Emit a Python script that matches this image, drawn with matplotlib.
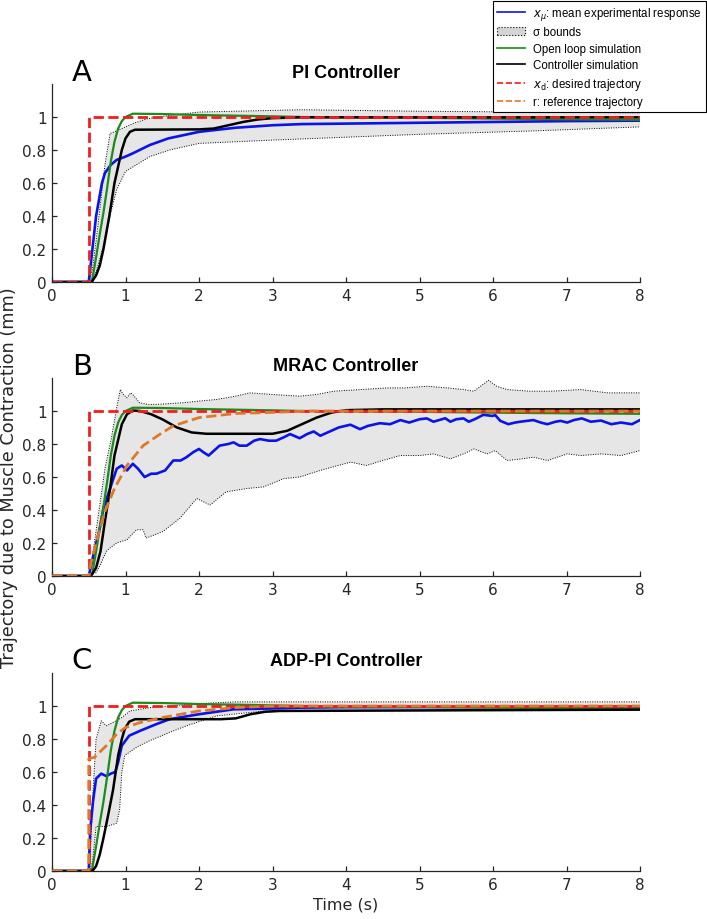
"""
Step responses of the PI, MRAC and ADP-PI controllers
"""
import matplotlib
matplotlib.use("Agg")
import matplotlib.pyplot as plt
from matplotlib.lines import Line2D
from matplotlib.patches import Patch

# desired trajectory (same in every panel)
desired_t = [0, 0.5, 0.5, 8]
desired_y = [0, 0, 1, 1]

# open loop simulation (same in every panel)
open_t = [0, 0.52, 0.55, 0.6, 0.65, 0.7, 0.75, 0.8, 0.85, 0.9, 0.95, 1.0, 1.1,
          1.5, 2, 3, 3.4, 5, 6, 7, 8]
open_y = [0, 0, 0.02, 0.15, 0.29, 0.42, 0.57, 0.73, 0.85, 0.93, 0.975, 1.0, 1.02,
          1.018, 1.012, 1.004, 1.0, 0.995, 0.99, 0.986, 0.983]

# --- A: PI controller
a_mean_t = [0, 0.5, 0.55, 0.6, 0.64, 0.68, 0.72, 0.8, 0.88, 1.0, 1.1, 1.33, 1.58,
            2.0, 2.5, 3.0, 3.4, 4, 5, 6, 7, 8]
a_mean_y = [0, 0, 0.2, 0.4, 0.5, 0.6, 0.66, 0.71, 0.74, 0.76, 0.78, 0.83, 0.87,
            0.91, 0.935, 0.95, 0.957, 0.96, 0.965, 0.97, 0.975, 0.978]
a_upper_t = [0.5, 0.55, 0.6, 0.65, 0.72, 0.79, 0.9, 1.0, 1.1, 1.3, 1.6, 2.0, 3.0,
             3.4, 5, 8]
a_upper_y = [0, 0.08, 0.25, 0.44, 0.71, 0.90, 0.92, 0.94, 0.96, 0.99, 1.01, 1.03,
             1.04, 1.044, 1.035, 1.025]
a_lower_t = [0.5, 0.55, 0.6, 0.7, 0.8, 0.88, 1.0, 1.33, 1.6, 2.0, 3.0, 3.4, 5,
             6.5, 8]
a_lower_y = [0, 0.01, 0.06, 0.22, 0.42, 0.56, 0.67, 0.76, 0.8, 0.84, 0.86, 0.867,
             0.895, 0.915, 0.94]
a_ctrl_t = [0, 0.54, 0.6, 0.65, 0.7, 0.78, 0.85, 0.95, 1.0, 1.06, 1.13, 2.0, 2.2,
            2.4, 2.6, 2.8, 3.0, 3.4, 8]
a_ctrl_y = [0, 0, 0.04, 0.1, 0.2, 0.4, 0.6, 0.8, 0.87, 0.91, 0.923, 0.925, 0.93,
            0.95, 0.97, 0.985, 0.993, 0.998, 0.998]

# --- B: MRAC controller
b_mean_t = [0, 0.5, 0.56, 0.65, 0.7, 0.76, 0.82, 0.88, 0.95, 1.02, 1.1, 1.17,
            1.26, 1.35, 1.42, 1.54, 1.65, 1.75, 1.83, 1.92, 2.0, 2.06, 2.13,
            2.28, 2.4, 2.47, 2.55, 2.65, 2.75, 2.83, 2.95, 3.05, 3.15, 3.24,
            3.37, 3.47, 3.56, 3.65, 3.75, 3.9, 4.06, 4.19, 4.3, 4.46, 4.6,
            4.74, 4.86, 5.0, 5.1, 5.19, 5.35, 5.42, 5.5, 5.6, 5.67, 5.75,
            5.87, 5.99, 6.03, 6.1, 6.21, 6.3, 6.37, 6.55, 6.65, 6.74, 6.85,
            6.92, 7.01, 7.1, 7.21, 7.33, 7.47, 7.61, 7.74, 7.89, 8.0]
b_mean_y = [0, 0, 0.12, 0.29, 0.41, 0.49, 0.57, 0.65, 0.67, 0.64, 0.68, 0.65,
            0.60, 0.62, 0.62, 0.64, 0.70, 0.70, 0.72, 0.75, 0.77, 0.75, 0.73,
            0.79, 0.80, 0.81, 0.79, 0.79, 0.82, 0.83, 0.82, 0.82, 0.84, 0.86,
            0.835, 0.86, 0.876, 0.85, 0.87, 0.9, 0.917, 0.89, 0.91, 0.926, 0.92,
            0.945, 0.93, 0.95, 0.955, 0.935, 0.956, 0.935, 0.95, 0.955, 0.935, 0.95,
            0.977, 0.97, 0.975, 0.94, 0.92, 0.93, 0.935, 0.945, 0.93, 0.92, 0.935,
            0.94, 0.93, 0.945, 0.955, 0.935, 0.942, 0.92, 0.93, 0.92, 0.945]
b_upper_t = [0.5, 0.55, 0.65, 0.72, 0.81, 0.88, 0.93, 0.97, 1.02, 1.07, 1.1, 1.19,
             1.3, 1.42, 1.6, 1.78, 2.0, 2.24, 2.5, 2.69, 3.0, 3.37, 3.6, 3.83,
             4.2, 4.56, 4.8, 5.1, 5.38, 5.6, 5.74, 5.94, 6.05, 6.19, 6.5, 6.78,
             7.0, 7.19, 7.56, 8.0]
b_upper_y = [0, 0.12, 0.43, 0.65, 0.84, 1.02, 1.13, 1.1, 1.08, 1.11, 1.10, 1.05,
             1.04, 1.04, 1.045, 1.05, 1.06, 1.07, 1.09, 1.11, 1.1, 1.09, 1.1, 1.12,
             1.13, 1.14, 1.14, 1.15, 1.14, 1.13, 1.12, 1.186, 1.15, 1.13, 1.12, 1.12,
             1.125, 1.13, 1.11, 1.11]
b_lower_t = [0.5, 0.6, 0.65, 0.74, 0.79, 0.88, 1.02, 1.15, 1.24, 1.28, 1.4, 1.51,
             1.74, 1.97, 2.15, 2.37, 2.65, 2.88, 3.15, 3.37, 3.65, 4.06, 4.28,
             4.5, 4.74, 5.0, 5.19, 5.42, 5.6, 5.74, 5.92, 6.03, 6.19, 6.4, 6.55,
             6.74, 7.01, 7.2, 7.47, 7.74, 8.0]
b_lower_y = [0, 0.02, 0.06, 0.15, 0.17, 0.2, 0.22, 0.28, 0.28, 0.23, 0.25, 0.27,
             0.35, 0.47, 0.43, 0.51, 0.53, 0.54, 0.59, 0.60, 0.64, 0.69, 0.67,
             0.70, 0.73, 0.73, 0.74, 0.71, 0.74, 0.77, 0.74, 0.76, 0.70, 0.71, 0.72,
             0.70, 0.74, 0.73, 0.74, 0.73, 0.76]
b_ctrl_t = [0, 0.53, 0.6, 0.66, 0.72, 0.79, 0.85, 0.95, 1.02, 1.1, 1.2, 1.35, 1.5,
            1.7, 1.9, 2.1, 3.0, 3.2, 3.4, 3.6, 3.8, 4.0, 4.5, 8]
b_ctrl_y = [0, 0, 0.05, 0.15, 0.33, 0.53, 0.73, 0.92, 0.98, 1.003, 1.0, 0.98, 0.95,
            0.9, 0.87, 0.862, 0.862, 0.88, 0.92, 0.96, 0.99, 1.005, 1.01, 1.01]
b_ref_t = [0, 0.5, 0.53, 0.6, 0.72, 0.85, 1.02, 1.24, 1.47, 1.65, 2.0, 2.5, 2.9,
           3.5, 8]
b_ref_y = [0, 0, 0.08, 0.2, 0.39, 0.53, 0.67, 0.79, 0.86, 0.91, 0.96, 0.985, 0.99,
           1.0, 1.0]

# --- C: ADP-PI controller
c_mean_t = [0, 0.5, 0.52, 0.56, 0.6, 0.67, 0.74, 0.8, 0.86, 0.9, 0.95, 1.05, 1.2,
            1.42, 1.6, 2.0, 2.47, 3.0, 3.37, 4, 8]
c_mean_y = [0, 0, 0.25, 0.43, 0.56, 0.59, 0.575, 0.59, 0.60, 0.66, 0.76, 0.82,
            0.85, 0.89, 0.92, 0.95, 0.98, 0.985, 0.99, 0.993, 0.995]
c_upper_t = [0.5, 0.53, 0.56, 0.6, 0.67, 0.74, 0.83, 0.95, 1.06, 1.33, 1.6, 2.0,
             2.5, 8]
c_upper_y = [0, 0.2, 0.5, 0.8, 0.91, 0.88, 0.9, 0.93, 0.97, 0.99, 1.0, 1.015,
             1.025, 1.025]
c_lower_t = [0.5, 0.55, 0.58, 0.6, 0.75, 0.88, 0.92, 0.95, 0.99, 1.15, 1.33, 1.6,
             1.83, 2.24, 2.9, 8]
c_lower_y = [0, 0.05, 0.18, 0.27, 0.27, 0.29, 0.37, 0.6, 0.70, 0.75, 0.79, 0.84,
             0.88, 0.94, 0.97, 0.975]
c_ctrl_t = [0, 0.55, 0.6, 0.65, 0.7, 0.76, 0.83, 0.9, 0.95, 0.99, 1.05, 1.13, 2.3,
            2.5, 2.7, 2.9, 3.1, 8]
c_ctrl_y = [0, 0, 0.03, 0.1, 0.2, 0.33, 0.49, 0.70, 0.8, 0.86, 0.905, 0.92, 0.92,
            0.925, 0.95, 0.965, 0.97, 0.978]
c_ref_t = [0, 0.5, 0.5, 0.58, 0.74, 0.88, 1.0, 1.2, 1.5, 2.0, 2.5, 3.0, 8]
c_ref_y = [0, 0, 0.68, 0.69, 0.76, 0.83, 0.87, 0.9, 0.93, 0.97, 0.99, 1.0, 1.0]

titles = ["PI Controller", "MRAC Controller", "ADP-PI Controller"]
letters = ["A", "B", "C"]
xticks = [0, 1, 2, 3, 4, 5, 6, 7, 8]
yticks = [0, 0.2, 0.4, 0.6, 0.8, 1]
ytick_labels = ["0", "0.2", "0.4", "0.6", "0.8", "1"]

panels = [
    (a_mean_t, a_mean_y, a_upper_t, a_upper_y, a_lower_t, a_lower_y,
     a_ctrl_t, a_ctrl_y, None, None),
    (b_mean_t, b_mean_y, b_upper_t, b_upper_y, b_lower_t, b_lower_y,
     b_ctrl_t, b_ctrl_y, b_ref_t, b_ref_y),
    (c_mean_t, c_mean_y, c_upper_t, c_upper_y, c_lower_t, c_lower_y,
     c_ctrl_t, c_ctrl_y, c_ref_t, c_ref_y),
]

BLUE = "#0a14e6"
GREEN = "#198c19"
RED = "#f01e1e"
ORANGE = "#e0782a"
GREY = "#262626"
FILL = "#e6e6e6"

plt.rcParams["font.family"] = "DejaVu Sans"

W, H = 707, 920
fig = plt.figure(figsize=(W / 100, H / 100), dpi=100)

# axis bottoms and title rows, in pixels
bottoms_px = [283, 577, 872]
title_px = [73, 367, 661]

for i, (mt, my, ut, uy, lt, ly, ct, cy, rt, ry) in enumerate(panels):
    ax = fig.add_axes([52 / W, 1 - bottoms_px[i] / H, 588 / W, 198 / H])

    # sigma band as a polygon: upper bound out, lower bound back
    ax.fill(list(ut) + list(lt)[::-1], list(uy) + list(ly)[::-1],
            color=FILL, lw=0, zorder=1)
    ax.plot(ut, uy, ls=(0, (1, 1.5)), color="k", lw=0.7, zorder=2)
    ax.plot(lt, ly, ls=(0, (1, 1.5)), color="k", lw=0.7, zorder=2)

    ax.plot(mt, my, color=BLUE, lw=1.9, zorder=3)
    ax.plot(open_t, open_y, color=GREEN, lw=1.6, zorder=4)
    ax.plot(ct, cy, color="k", lw=1.8, zorder=4)
    ax.plot(desired_t, desired_y, color=RED, lw=2.0, ls="--", zorder=5)
    if rt is not None:
        ax.plot(rt, ry, color=ORANGE, lw=2.0, ls="--", zorder=6)

    ax.set_xlim(0, 8)
    ax.set_ylim(0, 1.2)
    ax.set_xticks(xticks)
    ax.set_yticks(yticks)
    ax.set_yticklabels(ytick_labels)
    for s in ["top", "right"]:
        ax.spines[s].set_visible(False)
    for s in ["left", "bottom"]:
        ax.spines[s].set_color(GREY)
        ax.spines[s].set_linewidth(0.9)
    ax.tick_params(direction="in", length=3.5, width=0.9, color=GREY,
                   labelcolor=GREY, labelsize=11, pad=4)
    ax.patch.set_alpha(0)

    fig.text(346 / W, 1 - title_px[i] / H, titles[i], ha="center", va="center",
             family="Liberation Sans", weight="bold", size=13)
    fig.text(82 / W, 1 - title_px[i] / H, letters[i], ha="center", va="center",
             size=21, color="k")

fig.text(9 / W, 1 - 478 / H, "Trajectory due to Muscle Contraction (mm)",
         rotation=90, ha="center", va="center", size=12.8, color=GREY)
fig.text(346 / W, 1 - 905 / H, "Time (s)", ha="center", va="center",
         size=11.5, color=GREY)

# legend in the top right corner
handles = [
    Line2D([], [], color=BLUE, lw=1.2),
    Patch(facecolor="#d4d4d4", edgecolor="k", ls=":", lw=0.8),
    Line2D([], [], color=GREEN, lw=1.2),
    Line2D([], [], color="k", lw=1.2),
    Line2D([], [], color=RED, lw=1.2, ls="--"),
    Line2D([], [], color=ORANGE, lw=1.2, ls="--"),
]
labels = [
    r"$x_{\mu}$: mean experimental response",
    "\u03c3 bounds",
    "Open loop simulation",
    "Controller simulation",
    r"$x_{\rm d}$: desired trajectory",
    "r: reference trajectory",
]
leg = fig.legend(handles, labels, loc="upper right",
                 bbox_to_anchor=(706 / W, 1 - 2 / H), borderaxespad=0,
                 prop={"family": "Liberation Sans", "size": 8.3},
                 frameon=True, fancybox=False, edgecolor="k", framealpha=1,
                 handlelength=2.4, labelspacing=0.38, borderpad=0.35,
                 handletextpad=0.7)
leg.get_frame().set_linewidth(0.8)

plt.savefig("out.png", dpi=100)
